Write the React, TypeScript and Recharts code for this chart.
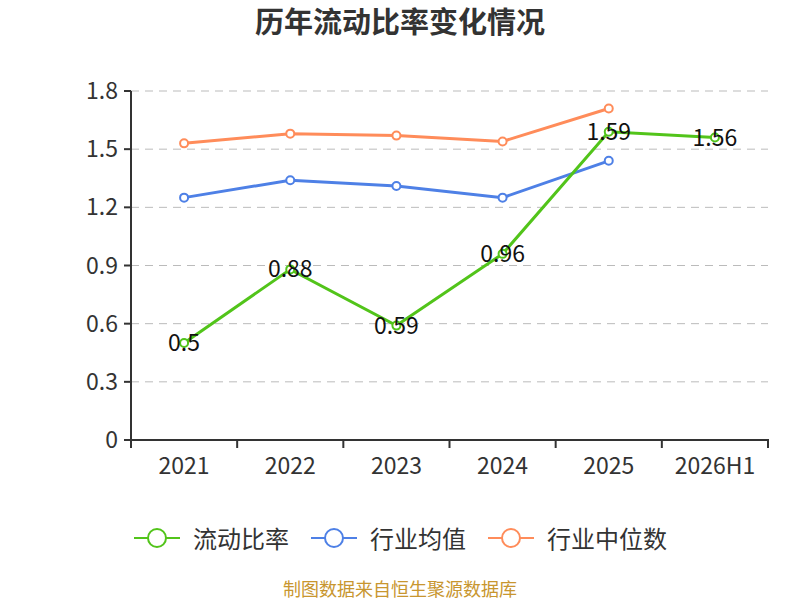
import React from "react";
import { CartesianGrid, LabelList, Line, LineChart, XAxis, YAxis } from "recharts";

const categories = ["2021", "2022", "2023", "2024", "2025", "2026H1"];
const currentRatio = [0.5, 0.88, 0.59, 0.96, 1.59, 1.56];
const industryMean = [1.25, 1.34, 1.31, 1.25, 1.44, null];
const industryMedian = [1.53, 1.58, 1.57, 1.54, 1.71, null];
const yTicks = [0, 0.3, 0.6, 0.9, 1.2, 1.5, 1.8];

const SERIES = [
  { key: "current", name: "流动比率", color: "#52c41a" },
  { key: "mean", name: "行业均值", color: "#4e80e6" },
  { key: "median", name: "行业中位数", color: "#ff8c5a" },
];

const FONT = "'Noto Sans CJK SC', 'Noto Sans', sans-serif";

const data = categories.map((c, i) => ({
  year: c,
  current: currentRatio[i],
  mean: industryMean[i],
  median: industryMedian[i],
}));

const ValueLabel = (props: any) => {
  const { x, y, value } = props;
  if (value == null) return null;
  return (
    <text x={x} y={y - 2} textAnchor="middle" dominantBaseline="central" fontSize={23} fill="#111" fontFamily={FONT}>
      {value}
    </text>
  );
};

// category tick: label at band centre, tick marks on band edges
const BandTick = (props: any) => {
  const { x, y, payload, index, visibleTicksCount } = props;
  const half = payload.offset || 0;
  const top = y - 19;
  return (
    <g>
      <line x1={x - half} y1={top} x2={x - half} y2={top + 9} stroke="#333" strokeWidth={2} />
      {index === visibleTicksCount - 1 && (
        <line x1={x + half} y1={top} x2={x + half} y2={top + 9} stroke="#333" strokeWidth={2} />
      )}
      <text x={x} y={y} dy="0.71em" textAnchor="middle" fontSize={23} fill="#333" fontFamily={FONT}>
        {payload.value}
      </text>
    </g>
  );
};

function LegendIcon({ color }: { color: string }) {
  return (
    <svg width={46} height={24} style={{ display: "block" }}>
      <line x1={0} y1={12} x2={46} y2={12} stroke={color} strokeWidth={2} />
      <circle cx={23} cy={12} r={9} fill="#fff" stroke={color} strokeWidth={2} />
    </svg>
  );
}

export default function App() {
  return (
    <div style={{ position: "relative", width: 800, height: 600, background: "#fff", fontFamily: FONT }}>
      <style>{"body{margin:0}"}</style>
      <div style={{ position: "absolute", top: 0, width: 800, textAlign: "center", fontSize: 29, fontWeight: 700, color: "#333", lineHeight: "40px" }}>
        历年流动比率变化情况
      </div>
      <LineChart width={800} height={600} data={data} margin={{ top: 91, right: 32, left: 71, bottom: 120 }}>
        <CartesianGrid vertical={false} stroke="#bbb" strokeDasharray="8 6" />
        <XAxis
          dataKey="year"
          scale="band"
          tickLine={false}
          axisLine={{ stroke: "#333", strokeWidth: 2 }}
          tick={BandTick}
          tickMargin={12}
          height={40}
          interval={0}
        />
        <YAxis
          domain={[0, 1.8]}
          ticks={yTicks}
          width={60}
          axisLine={{ stroke: "#333", strokeWidth: 2 }}
          tickLine={{ stroke: "#333", strokeWidth: 2 }}
          tickSize={7}
          tickMargin={6}
          tick={{ fontSize: 23, fill: "#333", fontFamily: FONT }}
          tickFormatter={(v: number) => (v === 0 ? "0" : v.toFixed(1))}
        />
        <Line dataKey="median" stroke={SERIES[2].color} strokeWidth={3} dot={{ r: 4, fill: "#fff", strokeWidth: 2 }} isAnimationActive={false} />
        <Line dataKey="mean" stroke={SERIES[1].color} strokeWidth={3} dot={{ r: 4, fill: "#fff", strokeWidth: 2 }} isAnimationActive={false} />
        <Line dataKey="current" stroke={SERIES[0].color} strokeWidth={3} dot={{ r: 4, fill: "#fff", strokeWidth: 2 }} isAnimationActive={false}>
          <LabelList dataKey="current" content={ValueLabel} />
        </Line>
      </LineChart>
      <div style={{ position: "absolute", top: 524, left: 134, display: "flex", alignItems: "center" }}>
        {SERIES.map((s, i) => (
          <div key={s.key} style={{ display: "flex", alignItems: "center", marginRight: i < 2 ? 22 : 0 }}>
            <LegendIcon color={s.color} />
            <span style={{ marginLeft: 13, fontSize: 24, color: "#333", lineHeight: "28px" }}>{s.name}</span>
          </div>
        ))}
      </div>
      <div style={{ position: "absolute", top: 578, width: 800, textAlign: "center", fontSize: 18, color: "#c8962f", lineHeight: "20px" }}>
        制图数据来自恒生聚源数据库
      </div>
    </div>
  );
}
